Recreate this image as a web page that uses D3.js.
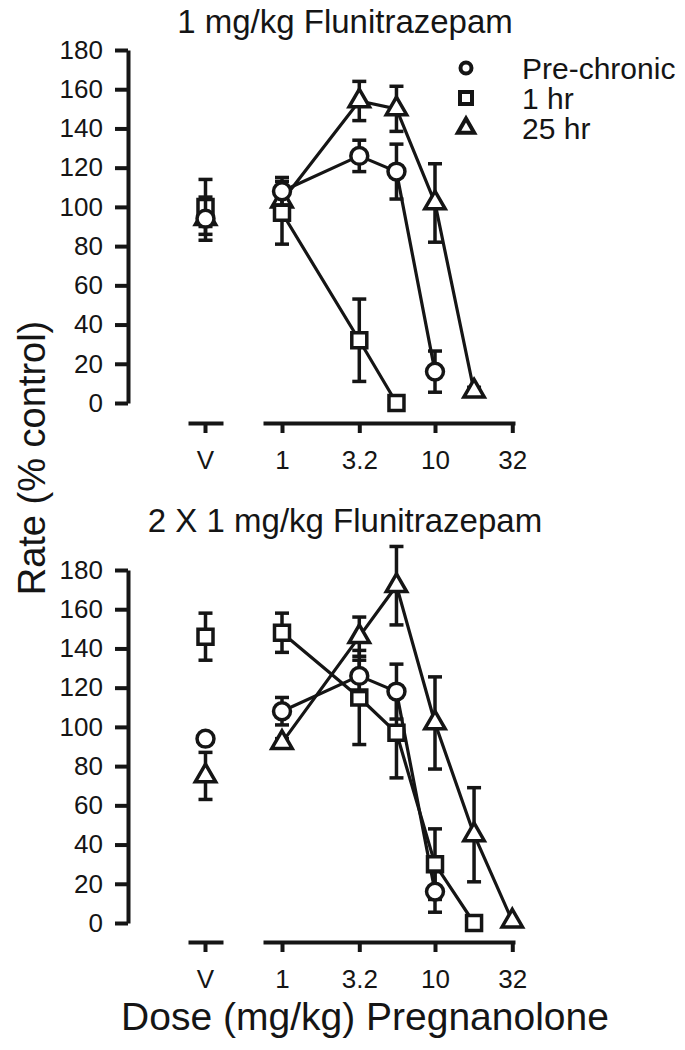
<!DOCTYPE html>
<html>
<head>
<meta charset="utf-8">
<script src="https://cdn.jsdelivr.net/npm/d3@7"></script>
<style>
  body { margin: 0; background: #fff; }
</style>
</head>
<body>
<script>
// doses of pregnanolone (mg/kg); V = vehicle
var doses = [1, 3.2, 5.6, 10, 18, 32];
var tickDoses = [1, 3.2, 10, 32];
var tickLabels = ["1", "3.2", "10", "32"];
var yTicks = [0, 20, 40, 60, 80, 100, 120, 140, 160, 180];
var seriesNames = ["Pre-chronic", "1 hr", "25 hr"];

// top panel: 1 mg/kg flunitrazepam
var topPreV = 94, topPreVErr = 11;
var topPre = [108, 126, 118, 16, null, null];
var topPreErr = [7, 8, 14, 10.5, 0, 0];
var top1hV = 100, top1hVErr = 14;
var top1h = [97, 32, 0, null, null, null];
var top1hErr = [16, 21, 0, 0, 0, 0];
var top25hV = 94, top25hVErr = 4;
var top25h = [103, 154, 150, 102, 6, null];
var top25hErr = [3, 10, 11.5, 20, 2, 0];

// bottom panel: 2 x 1 mg/kg flunitrazepam
var botPreV = 94, botPreVErr = 0;
var botPre = [108, 126, 118, 16, null, null];
var botPreErr = [7, 8, 14, 10.5, 0, 0];
var bot1hV = 146, bot1hVErr = 12;
var bot1h = [148, 115, 97, 30, 0, null];
var bot1hErr = [10, 24, 23, 18, 0, 0];
var bot25hV = 75, bot25hVErr = 12;
var bot25h = [92, 146, 172, 102, 45, 1];
var bot25hErr = [2, 10, 20, 23.5, 24, 0];

var width = 685, height = 1050;
var font = "'Liberation Sans', Arial, Helvetica, sans-serif";
var ink = "#151515";

var svg = d3.select("body")
  .append("svg")
  .attr("width", width)
  .attr("height", height);

var x = d3.scaleLog().domain([1, 10]).range([282, 435]);
var xV = d3.scaleBand().domain(["V"]).range([188, 223]);

var symbolTypes = [d3.symbolCircle, d3.symbolSquare, d3.symbolTriangle];
var symbolSizes = [225, 225, 180];

function drawPanel(p)
{
  var y = d3.scaleLinear().domain([0, 180]).range([p.base, p.base - 353]);
  var g = svg.append("g");

  g.append("text")
    .text(p.title)
    .attr("x", 345)
    .attr("y", p.titleY)
    .attr("text-anchor", "middle")
    .attr("font-family", font)
    .attr("font-size", 33)
    .attr("fill", ink);

  var yAxis = g.append("g")
    .attr("transform", "translate(128,0)")
    .call(d3.axisLeft(y).tickValues(yTicks).tickSize(13).tickSizeOuter(0).tickPadding(12));

  var xs = x.copy().domain([x.invert(263), x.invert(515)]).range([263, 515]);
  var xAxis = g.append("g")
    .attr("transform", "translate(0," + p.axisY + ")")
    .call(d3.axisBottom(xs).tickValues(tickDoses).tickSize(10).tickSizeOuter(0).tickPadding(18)
      .tickFormat(function(d, i) { return tickLabels[i]; }));

  var vAxis = g.append("g")
    .attr("transform", "translate(0," + p.axisY + ")")
    .call(d3.axisBottom(xV).tickSize(10).tickSizeOuter(0).tickPadding(18));

  [yAxis, xAxis, vAxis].forEach(function(a) {
    a.attr("font-family", font).attr("font-size", 26);
    a.selectAll("path, line").attr("stroke", ink).attr("stroke-width", 4);
    a.selectAll("text").attr("fill", ink);
  });

  // draw order: triangles, squares, circles on top
  var order = [2, 1, 0];

  var line = d3.line()
    .defined(function(d) { return d.v != null; })
    .x(function(d) { return x(d.dose); })
    .y(function(d) { return y(d.v); });

  order.forEach(function(s) {
    var pts = doses.map(function(d, i) { return { dose: d, v: p.vals[s][i] }; });
    g.append("path")
      .datum(pts)
      .attr("d", line)
      .attr("fill", "none")
      .attr("stroke", ink)
      .attr("stroke-width", 3.2);
  });

  order.forEach(function(s) {
    var pts = [{ cx: xV("V") + xV.bandwidth() / 2, v: p.vehicle[s], e: p.vehicleErr[s] }];
    doses.forEach(function(d, i) {
      if (p.vals[s][i] != null) pts.push({ cx: x(d), v: p.vals[s][i], e: p.errs[s][i] });
    });
    var bars = pts.filter(function(d) { return d.e > 0; });
    g.selectAll(null).data(bars).enter().append("line")
      .attr("x1", function(d) { return d.cx; })
      .attr("x2", function(d) { return d.cx; })
      .attr("y1", function(d) { return y(d.v - d.e); })
      .attr("y2", function(d) { return y(d.v + d.e); })
      .attr("stroke", ink).attr("stroke-width", 3.5);
    [-1, 1].forEach(function(sign) {
      g.selectAll(null).data(bars).enter().append("line")
        .attr("x1", function(d) { return d.cx - 7; })
        .attr("x2", function(d) { return d.cx + 7; })
        .attr("y1", function(d) { return y(d.v + sign * d.e); })
        .attr("y2", function(d) { return y(d.v + sign * d.e); })
        .attr("stroke", ink).attr("stroke-width", 3.5);
    });
    g.selectAll(null).data(pts).enter().append("path")
      .attr("transform", function(d) { return "translate(" + d.cx + "," + y(d.v) + ")"; })
      .attr("d", d3.symbol().type(symbolTypes[s]).size(symbolSizes[s]))
      .attr("fill", "#fff")
      .attr("stroke", ink)
      .attr("stroke-width", 3.5);
  });
}

drawPanel({
  title: "1 mg/kg Flunitrazepam", titleY: 33, base: 403, axisY: 423,
  vehicle: [topPreV, top1hV, top25hV],
  vehicleErr: [topPreVErr, top1hVErr, top25hVErr],
  vals: [topPre, top1h, top25h],
  errs: [topPreErr, top1hErr, top25hErr]
});

drawPanel({
  title: "2 X 1 mg/kg Flunitrazepam", titleY: 532, base: 923, axisY: 942,
  vehicle: [botPreV, bot1hV, bot25hV],
  vehicleErr: [botPreVErr, bot1hVErr, bot25hVErr],
  vals: [botPre, bot1h, bot25h],
  errs: [botPreErr, bot1hErr, bot25hErr]
});

// legend
var legendSizes = [95, 144, 115];
var legend = svg.append("g");
seriesNames.forEach(function(name, i) {
  var ly = 68 + i * 30;
  legend.append("path")
    .attr("transform", "translate(466," + ly + ")")
    .attr("d", d3.symbol().type(symbolTypes[i]).size(legendSizes[i]))
    .attr("fill", "#fff")
    .attr("stroke", ink)
    .attr("stroke-width", 4);
  legend.append("text")
    .text(name)
    .attr("x", 522)
    .attr("y", ly)
    .attr("dy", "0.35em")
    .attr("font-family", font)
    .attr("font-size", 30)
    .attr("fill", ink);
});

// axis titles
svg.append("text")
  .text("Rate (% control)")
  .attr("transform", "translate(45,458) rotate(-90)")
  .attr("text-anchor", "middle")
  .attr("font-family", font)
  .attr("font-size", 38)
  .attr("fill", ink);

svg.append("text")
  .text("Dose (mg/kg) Pregnanolone")
  .attr("x", 365)
  .attr("y", 1030)
  .attr("text-anchor", "middle")
  .attr("font-family", font)
  .attr("font-size", 39)
  .attr("fill", ink);
</script>
</body>
</html>
